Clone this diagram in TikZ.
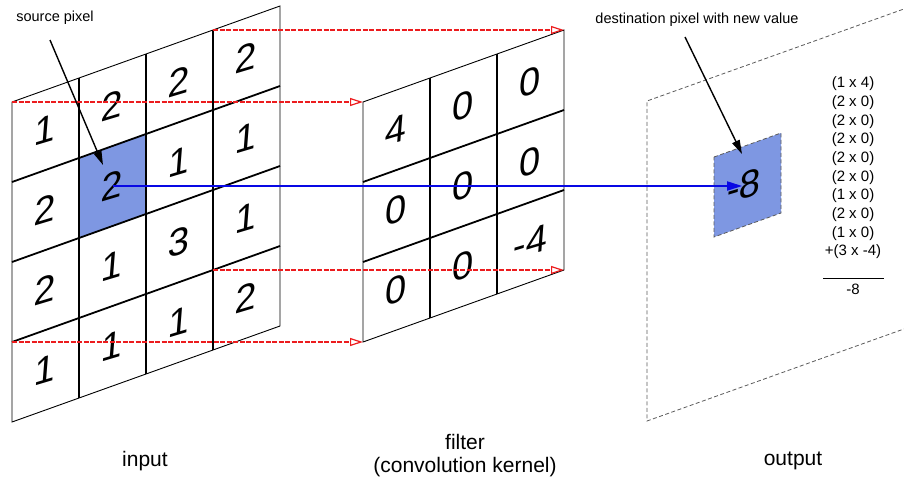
\documentclass[tikz,border=0pt]{standalone}
\usepackage{fontspec}
\setmainfont{Liberation Sans}
\usetikzlibrary{arrows.meta}
\definecolor{pix}{RGB}{126,151,226}
\definecolor{redl}{RGB}{236,28,30}
\definecolor{bluel}{RGB}{8,8,228}
\definecolor{outg}{RGB}{90,90,90}
\begin{document}
\begin{tikzpicture}[x=1pt,y=-1pt,
  thinb/.style={line width=0.9pt},
  rowline/.style={line width=1.8pt},
  colline/.style={line width=1.3pt},
  digit/.style={font=\fontsize{38}{42}\selectfont, inner sep=0pt, yslant=0.3, xslant=0.08},
  redarrow/.style={draw=redl, line width=1.2pt, dash pattern=on 5pt off 1.5pt, -{Triangle[open,length=13pt,width=8pt]}},
  bluearrow/.style={draw=bluel, line width=1.8pt, -{Triangle[length=15pt,width=9pt]}},
  blackarrow/.style={draw=black, line width=1.4pt, -{Triangle[length=14pt,width=8pt]}},
  outdash/.style={draw=outg, line width=0.8pt, dash pattern=on 4pt off 2.5pt},
  small/.style={font=\fontsize{14.5}{17}\selectfont, inner sep=0pt},
  label/.style={font=\fontsize{21}{23}\selectfont, inner sep=0pt, align=center},
  grid/.style={x={(67pt,24pt)}, y={(0pt,-80pt)}}
]
\clip (0,0) rectangle (904,482);
% ---------------- input ----------------
\begin{scope}[shift={(12pt,-102pt)}, grid]
  \fill[pix] (1,1) -- (2,1) -- (2,2) -- (1,2) -- cycle;
  \foreach \v in {1,2,3} \draw[rowline] (0,\v) -- (4,\v);
  \foreach \u in {1,2,3} \draw[colline] (\u,0) -- (\u,4);
  \draw[thinb] (0,0) -- (4,0) -- (4,4) -- (0,4) -- cycle;
  \coordinate (inA) at (0,0);
  \coordinate (inB) at (3,0);
  \coordinate (inC) at (3,3);
  \coordinate (inD) at (0,3);
  \foreach \r/\row in {0/{1,2,2,2},1/{2,2,1,1},2/{2,1,3,1},3/{1,1,1,2}}{
    \foreach \d [count=\c from 0] in \row {
      \node[digit] (in-\r-\c) at (\c+0.5,\r+0.5) {\d};
    }
  }
\end{scope}
% ---------------- filter ----------------
\begin{scope}[shift={(363pt,-102pt)}, grid]
  \foreach \v in {1,2} \draw[rowline] (0,\v) -- (3,\v);
  \foreach \u in {1,2} \draw[colline] (\u,0) -- (\u,3);
  \draw[thinb] (0,0) -- (3,0) -- (3,3) -- (0,3) -- cycle;
  \coordinate (fA) at (0,0);
  \coordinate (fB) at (3,0);
  \coordinate (fC) at (3,3);
  \coordinate (fD) at (0,3);
  \foreach \r/\row in {0/{4,0,0},1/{0,0,0},2/{0,0,-4}}{
    \foreach \d [count=\c from 0] in \row {
      \node[digit] (f-\r-\c) at (\c+0.5,\r+0.5) {\d};
    }
  }
\end{scope}
% ---------------- output ----------------
\begin{scope}[shift={(647pt,-101pt)}, grid]
  \draw[outdash] (4,0) -- (0,0) -- (0,4) -- (4,4);
  \filldraw[fill=pix, outdash] (1,1) -- (2,1) -- (2,2) -- (1,2) -- cycle;
  \node[digit] (outval) at (1.45,1.5) {-8};
\end{scope}
% ---------------- red projection lines ----------------
\draw[redarrow] (inB) -- (fB);
\draw[redarrow] (inA) -- (fA);
\draw[redarrow] (inC) -- (fC);
\draw[redarrow] (inD) -- (fD);
% ---------------- blue arrow ----------------
\draw[bluearrow, shorten >=2pt] (in-1-1.center) -- (in-1-1.center -| outval.center);
% ---------------- annotations ----------------
\node[small] (srclbl) at (55,18) {source pixel};
\coordinate (srcS) at (50,40);
\coordinate (srcE) at (103,165);
\draw[blackarrow] (srcS) -- (srcE);
\node[small] (dstlbl) at (697,20) {destination pixel with new value};
\coordinate (dstS) at (685,37);
\coordinate (dstE) at (742,154);
\draw[blackarrow] (dstS) -- (dstE);
\node[font=\fontsize{15}{18.67}\selectfont, align=center, inner sep=0pt] (eq) at (853,168)
  {(1 x 4)\\(2 x 0)\\(2 x 0)\\(2 x 0)\\(2 x 0)\\(2 x 0)\\(1 x 0)\\(2 x 0)\\(1 x 0)\\+(3 x -4)};
\draw[line width=0.8pt] (823,278) -- (884,278);
\node[font=\fontsize{15}{18}\selectfont, inner sep=0pt] (eqres) at (853,289) {-8};
\node[label] (linput) at (145,461) {input};
\node[label] (lfilter) at (465,456) {filter\\(convolution kernel)};
\node[label] (loutput) at (793,461) {output};
\end{tikzpicture}
\end{document}
